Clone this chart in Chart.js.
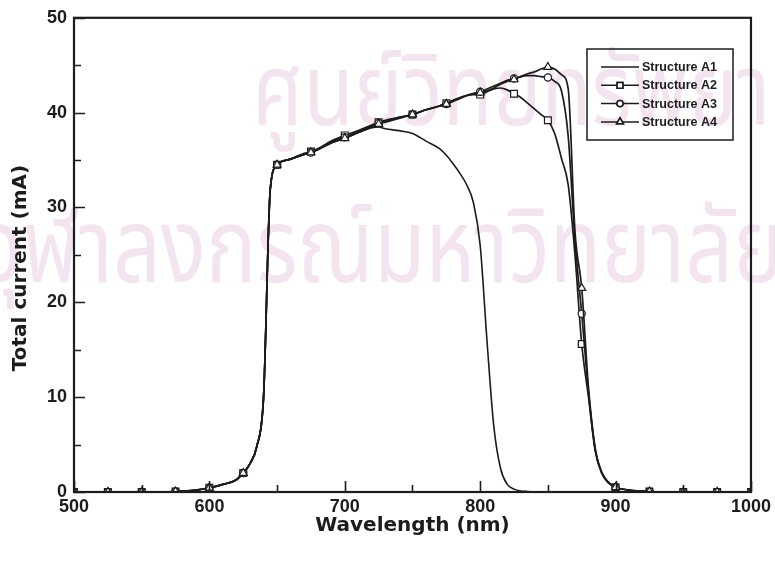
<!DOCTYPE html>
<html>
<head>
<meta charset="utf-8">
<script src="https://cdn.jsdelivr.net/npm/chart.js@4.4.1/dist/chart.umd.min.js"></script>
<style>
  html, body { margin: 0; padding: 0; background: #fff; }
  #wrap { width: 775px; height: 566px; position: relative; }
</style>
</head>
<body>
<div id="wrap"><canvas id="currentChart"></canvas></div>
<script>
// Wavelength grid (nm), finer where the curves change quickly
const wavelengths = [500, 525, 550, 575, 590, 600, 610, 620, 625, 630, 635, 640, 645, 650,
  660, 670, 675, 680, 690, 700, 710, 720, 725, 730, 740, 750, 760, 770, 775, 780, 785, 790, 795,
  800, 805, 810, 815, 820, 825, 830, 835, 840, 845, 850, 855, 860, 865, 870, 875, 880, 885, 890,
  895, 900, 910, 925, 950, 975, 1000];

// Absorption onset is the same for every structure (500 - 650 nm)
const onset = [0, 0, 0, 0.05, 0.2, 0.45, 0.8, 1.3, 2.0, 3.0, 4.8, 10, 32, 34.5];

// Total current (mA) from 660 nm onwards
const structA1 = onset.concat([35.1, 35.6, 35.8, 36.1, 36.8, 37.3, 37.9, 38.4, 38.5, 38.3, 38.1, 37.8,
  37.0, 36.2, 35.5, 34.6, 33.6, 32.4, 30.5, 26.0, 16.0, 7.0, 2.5, 0.8, 0.3, 0.1, 0.05,
  0, 0, 0, 0, 0, 0, 0, 0, 0, 0, 0, 0, 0, 0, 0, 0, 0, 0]);
const structA2 = onset.concat([35.1, 35.7, 35.9, 36.2, 37.0, 37.6, 38.1, 38.7, 39.0, 39.2, 39.5, 39.8,
  40.3, 40.7, 41.0, 41.3, 41.6, 41.8, 41.9, 41.9, 42.2, 42.5, 42.6, 42.4, 42.0, 41.6, 41.0, 40.4,
  39.8, 39.2, 37.8, 35.2, 32.4, 25.0, 15.6, 10.0, 4.3, 1.9, 0.9, 0.5, 0.2, 0.05, 0, 0, 0]);
const structA3 = onset.concat([35.1, 35.6, 35.8, 36.1, 36.9, 37.4, 38.0, 38.6, 38.9, 39.1, 39.5, 39.8,
  40.3, 40.7, 40.9, 41.2, 41.5, 41.8, 42.0, 42.2, 42.5, 42.8, 43.1, 43.4, 43.6, 43.8, 43.9, 43.9,
  43.8, 43.7, 43.3, 42.3, 37.5, 26.5, 18.8, 10.5, 4.4, 2.0, 1.0, 0.5, 0.2, 0.05, 0, 0, 0]);
const structA4 = onset.concat([35.1, 35.6, 35.8, 36.1, 36.8, 37.3, 37.9, 38.5, 38.8, 39.0, 39.4, 39.8,
  40.3, 40.7, 40.9, 41.2, 41.5, 41.8, 42.0, 42.1, 42.3, 42.6, 43.0, 43.3, 43.5, 43.8, 44.1, 44.3,
  44.6, 44.8, 44.6, 44.0, 42.5, 27.5, 21.5, 11.0, 4.6, 2.0, 1.0, 0.5, 0.2, 0.05, 0, 0, 0]);

const seriesNames = ['Structure A1', 'Structure A2', 'Structure A3', 'Structure A4'];
const seriesMarkers = [false, 'rect', 'circle', 'triangle'];
const markerSize = { rect: 4.8, circle: 3.6, triangle: 4.6 };
const xTicks = [500, 600, 700, 800, 900, 1000];
const yTicks = [0, 10, 20, 30, 40, 50];

const INK = '#1c1c1c';
const FONT = '"Liberation Sans", Arial, sans-serif';
const TITLE_FONT = '"DejaVu Sans", Verdana, sans-serif';

function toPoints(values) {
  return values.map((v, i) => ({ x: wavelengths[i], y: v }));
}

// markers only every 25 nm
function markerRadius(style) {
  return function(ctx) {
    if (!style) return 0;
    const wl = wavelengths[ctx.dataIndex];
    return wl % 25 === 0 ? markerSize[style] : 0;
  };
}

const seriesValues = [structA1, structA2, structA3, structA4];
const datasets = seriesValues.map((vals, i) => ({
  label: seriesNames[i],
  data: toPoints(vals),
  borderColor: INK,
  borderWidth: i === 0 ? 1.6 : 1.7,
  pointStyle: seriesMarkers[i] || 'circle',
  pointRadius: markerRadius(seriesMarkers[i]),
  pointHoverRadius: 0,
  pointBackgroundColor: '#fff',
  pointBorderColor: INK,
  pointBorderWidth: 1.2,
  cubicInterpolationMode: 'monotone',
  fill: false,
  order: 3 - i
}));

// faint watermark behind the plot
const watermark = {
  id: 'watermark',
  beforeDraw(chart) {
    const ctx = chart.ctx;
    ctx.save();
    ctx.fillStyle = 'rgba(226, 190, 220, 0.42)';
    ctx.textBaseline = 'alphabetic';
    ctx.textAlign = 'left';
    ctx.font = '100px "Noto Sans Thai", "Noto Sans", sans-serif';
    ctx.save();
    ctx.translate(252, 125);
    ctx.scale(0.82, 1);
    ctx.fillText('ศูนย์วิทยทรัพยากร', 0, 0);
    ctx.restore();
    ctx.save();
    ctx.translate(-22, 282);
    ctx.scale(0.84, 1.04);
    ctx.fillText('จุฬาลงกรณ์มหาวิทยาลัย', 0, 0);
    ctx.restore();
    ctx.restore();
  }
};

// frame around the plot, inward tick marks, y title and the legend box
const frameAndLegend = {
  id: 'frameAndLegend',
  afterDraw(chart) {
    const ctx = chart.ctx;
    const { left, right, top, bottom } = chart.chartArea;
    const xs = chart.scales.x, ys = chart.scales.y;
    ctx.save();
    ctx.strokeStyle = INK;
    ctx.lineWidth = 1.6;

    // inward ticks: majors with labels, minors half way between
    ctx.beginPath();
    for (let v = 0; v <= 50; v += 5) {
      const y = Math.round(ys.getPixelForValue(v)) + 0.5;
      const len = v % 10 === 0 ? 11 : 7;
      ctx.moveTo(left, y);
      ctx.lineTo(left + len, y);
    }
    for (let v = 500; v <= 1000; v += 50) {
      const x = Math.round(xs.getPixelForValue(v)) + 0.5;
      const len = v % 100 === 0 ? 11 : 7;
      ctx.moveTo(x, bottom);
      ctx.lineTo(x, bottom - len);
    }
    ctx.stroke();

    ctx.lineWidth = 2.2;
    ctx.strokeRect(left, top, right - left, bottom - top);

    // y axis title, sits a little below the middle of the axis
    ctx.save();
    ctx.translate(21, 268);
    ctx.rotate(-Math.PI / 2);
    ctx.font = 'bold 20px ' + TITLE_FONT;
    ctx.fillStyle = INK;
    ctx.textAlign = 'center';
    ctx.textBaseline = 'middle';
    ctx.fillText('Total current (mA)', 0, 0);
    ctx.restore();

    // legend
    const bx = 587, by = 49, bw = 146, bh = 91;
    ctx.lineWidth = 1.5;
    ctx.strokeRect(bx, by, bw, bh);
    ctx.font = 'bold 12.5px ' + FONT;
    ctx.textBaseline = 'middle';
    ctx.fillStyle = INK;
    seriesNames.forEach((name, i) => {
      const y = 67 + i * 18.3;
      ctx.beginPath();
      ctx.lineWidth = 1.5;
      ctx.moveTo(601, y);
      ctx.lineTo(639, y);
      ctx.stroke();
      const style = seriesMarkers[i];
      if (style) {
        Chart.helpers.drawPoint(ctx, {
          pointStyle: style,
          radius: markerSize[style] * 0.85,
          borderWidth: 1.1,
          rotation: 0
        }, 620, y);
        ctx.fillStyle = '#fff';
        ctx.fill();
        ctx.stroke();
        ctx.fillStyle = INK;
      }
      ctx.fillText(name, 642, y + 0.5);
    });
    ctx.restore();
  }
};

new Chart(document.getElementById('currentChart'), {
  type: 'line',
  data: { datasets },
  options: {
    responsive: true,
    maintainAspectRatio: false,
    animation: false,
    events: [],
    layout: { padding: { top: 15, right: 23, bottom: 0, left: 0 } },
    plugins: {
      legend: { display: false },
      tooltip: { enabled: false }
    },
    scales: {
      x: {
        type: 'linear',
        min: 500,
        max: 1000,
        afterFit(scale) { scale.height = 74; },
        afterBuildTicks(scale) { scale.ticks = xTicks.map(v => ({ value: v })); },
        grid: { display: false, drawTicks: false },
        border: { display: false },
        ticks: {
          padding: 4,
          color: INK,
          maxRotation: 0,
          callback: v => String(v),
          font: { family: FONT, size: 18, weight: 'bold' }
        },
        title: {
          display: true,
          text: 'Wavelength (nm)',
          color: INK,
          padding: { top: 0, bottom: 28 },
          font: { family: TITLE_FONT, size: 20, weight: 'bold' }
        }
      },
      y: {
        min: 0,
        max: 50,
        afterFit(scale) { scale.width = 74; },
        afterBuildTicks(scale) { scale.ticks = yTicks.map(v => ({ value: v })); },
        grid: { display: false, drawTicks: false },
        border: { display: false },
        ticks: {
          padding: 7,
          color: INK,
          callback: v => String(v),
          font: { family: FONT, size: 18, weight: 'bold' }
        }
      }
    }
  },
  plugins: [watermark, frameAndLegend]
});
</script>
</body>
</html>
